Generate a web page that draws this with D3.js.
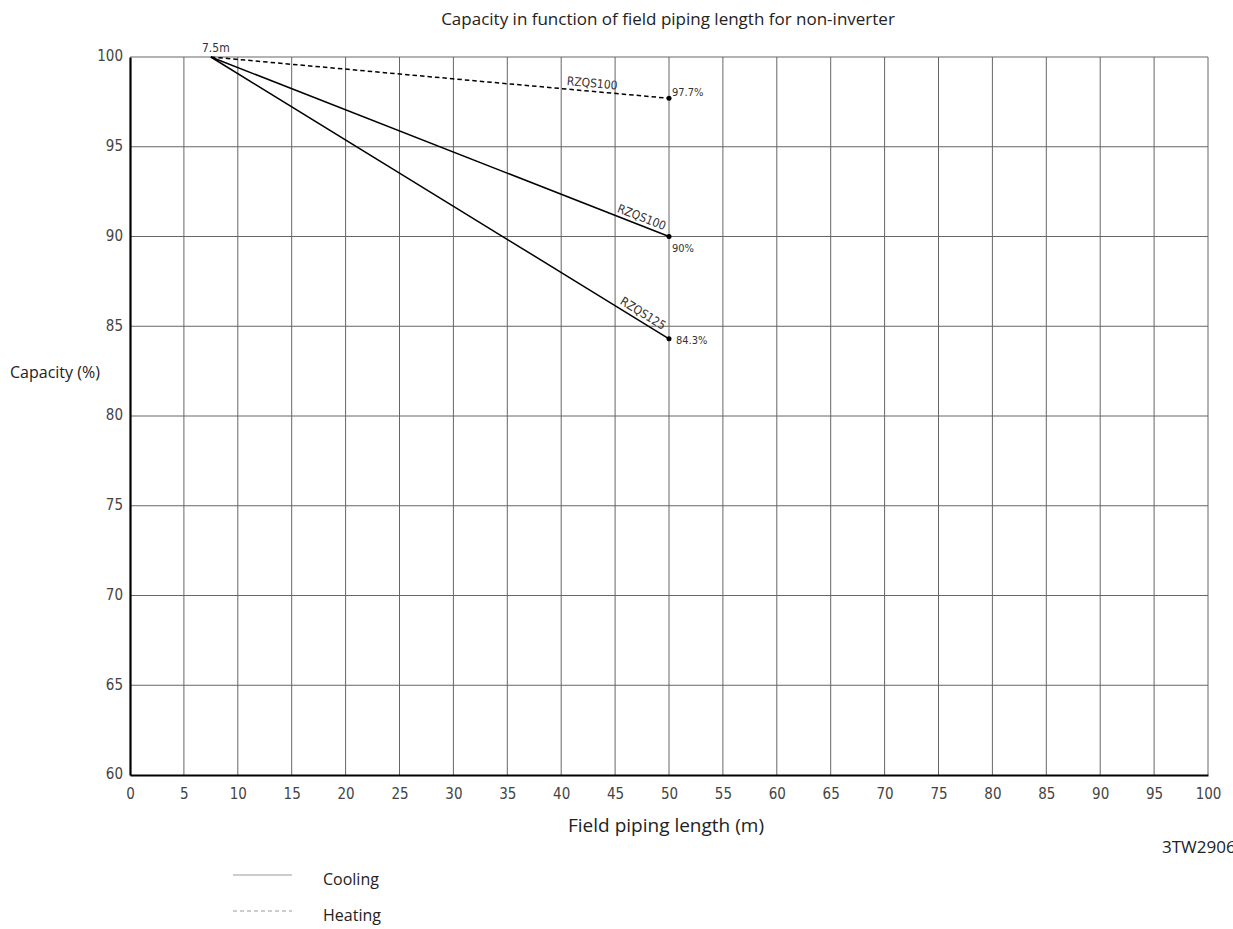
<!DOCTYPE html>
<html>
<head>
<meta charset="utf-8">
<script src="https://cdn.jsdelivr.net/npm/d3@7"></script>
<style>
  body { margin: 0; background: #fff; }
  svg { display: block; }
</style>
</head>
<body>
<svg id="chart" width="1233" height="929"></svg>
<script>
const xTicks = d3.range(0, 101, 5);
const yTicks = [60, 65, 70, 75, 80, 85, 90, 95, 100];

// curves: start and end in (length m, capacity %)
const curveLabels = ["RZQS100", "RZQS100", "RZQS125"];
const curveEndLabels = ["97.7%", "90%", "84.3%"];
const curveDashed = [true, false, false];
const curveLength = [7.5, 50];
const curveCapacity = [[100, 97.7], [100, 90], [100, 84.3]];
const labelAt = [42.8, 47.2, 47.2]; // where the unit name sits along the line (m)

const svg = d3.select("#chart");
const W = 1233, H = 929;
const m = { left: 130, right: 25, top: 57, bottom: 154 };

const x = d3.scaleLinear().domain([0, 100]).range([m.left, W - m.right]);
const y = d3.scaleLinear().domain([60, 100]).range([H - m.bottom, m.top]);

const tickFont = "'Liberation Sans Narrow', 'DejaVu Sans Condensed', sans-serif";
const textFont = "'Open Sans', 'Noto Sans', sans-serif";

// grid
svg.append("g").selectAll("line").data(xTicks.filter(d => d > 0)).join("line")
  .attr("x1", d => x(d)).attr("x2", d => x(d))
  .attr("y1", y(60)).attr("y2", y(100))
  .attr("stroke", "#666").attr("stroke-width", 1);
svg.append("g").selectAll("line").data(yTicks.filter(d => d > 60)).join("line")
  .attr("x1", x(0)).attr("x2", x(100))
  .attr("y1", d => y(d)).attr("y2", d => y(d))
  .attr("stroke", "#666").attr("stroke-width", 1);

// axes
const xAxis = svg.append("g").attr("transform", `translate(0,${y(60)})`)
  .call(d3.axisBottom(x).tickValues(xTicks).tickSize(0).tickPadding(13));
const yAxis = svg.append("g").attr("transform", `translate(${x(0)},0)`)
  .call(d3.axisLeft(y).tickValues(yTicks).tickSize(0).tickPadding(7));
[xAxis, yAxis].forEach(g => {
  g.select(".domain").attr("stroke", "#000").attr("stroke-width", 2.2);
  g.selectAll("text").attr("font-family", tickFont).attr("font-size", 15)
    .attr("fill", "#444");
});
yAxis.selectAll("text").attr("dy", "0.25em");

// curves
const line = d3.line().x(d => x(d[0])).y(d => y(d[1]));
curveCapacity.forEach((c, i) => {
  const pts = [[curveLength[0], c[0]], [curveLength[1], c[1]]];
  svg.append("path").datum(pts)
    .attr("d", line)
    .attr("fill", "none").attr("stroke", "#000").attr("stroke-width", 1.5)
    .attr("stroke-dasharray", curveDashed[i] ? "4.5,3" : null);
  svg.append("circle")
    .attr("cx", x(curveLength[1])).attr("cy", y(c[1])).attr("r", 2.5).attr("fill", "#000");

  // unit name along the line
  const ang = Math.atan2(y(c[1]) - y(c[0]), x(curveLength[1]) - x(curveLength[0])) * 180 / Math.PI;
  const t = (labelAt[i] - curveLength[0]) / (curveLength[1] - curveLength[0]);
  const lx = x(labelAt[i]), ly = y(c[0] + (c[1] - c[0]) * t);
  svg.append("text")
    .attr("transform", `translate(${lx},${ly}) rotate(${ang})`)
    .attr("dy", -4)
    .attr("text-anchor", "middle")
    .attr("font-family", tickFont).attr("font-size", 12).attr("fill", "#333")
    .text(curveLabels[i]);

  // end value
  const below = curveEndLabels[i] === "90%";
  svg.append("text")
    .attr("x", x(curveLength[1]) + (below ? 3 : (i === 0 ? 3 : 7)))
    .attr("y", y(c[1]) + (below ? 15 : (i === 0 ? -2 : 5)))
    .attr("font-family", tickFont).attr("font-size", 11).attr("fill", "#333")
    .text(curveEndLabels[i]);
});

svg.append("text")
  .attr("x", x(curveLength[0]) + 5).attr("y", y(100) - 5)
  .attr("text-anchor", "middle")
  .attr("font-family", tickFont).attr("font-size", 12).attr("fill", "#333")
  .text(curveLength[0] + "m");

// titles
svg.append("text").attr("x", 668).attr("y", 25).attr("text-anchor", "middle")
  .attr("font-family", textFont).attr("font-size", 17).attr("fill", "#222")
  .text("Capacity in function of field piping length for non-inverter");
svg.append("text").attr("x", 666).attr("y", 832).attr("text-anchor", "middle")
  .attr("font-family", textFont).attr("font-size", 19).attr("fill", "#222")
  .text("Field piping length  (m)");
svg.append("text").attr("x", 10).attr("y", 378)
  .attr("font-family", textFont).attr("font-size", 16).attr("fill", "#222")
  .text("Capacity (%)");
svg.append("text").attr("x", 1162).attr("y", 853)
  .attr("font-family", textFont).attr("font-size", 17).attr("fill", "#222")
  .text("3TW2906");

// legend
const legendNames = ["Cooling", "Heating"];
const legendDash = [null, "4,3"];
legendNames.forEach((name, i) => {
  const ly = 875 + i * 36;
  svg.append("line").attr("x1", 233).attr("x2", 292).attr("y1", ly).attr("y2", ly)
    .attr("stroke", "#999").attr("stroke-width", 1.2).attr("stroke-dasharray", legendDash[i]);
  svg.append("text").attr("x", 323).attr("y", ly + 10)
    .attr("font-family", textFont).attr("font-size", 16).attr("fill", "#222")
    .text(name);
});
</script>
</body>
</html>
